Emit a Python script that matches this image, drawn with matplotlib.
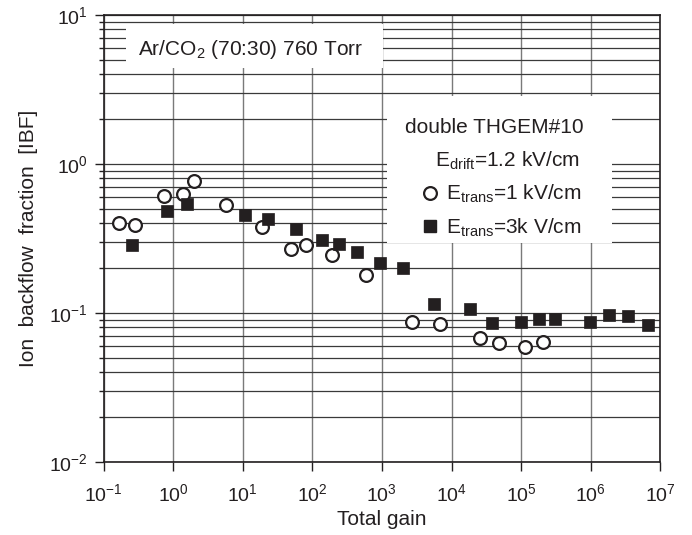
import matplotlib
matplotlib.use("Agg")
import matplotlib.pyplot as plt
from matplotlib.lines import Line2D
from matplotlib.patches import Rectangle
from matplotlib.ticker import LogLocator, NullLocator

plt.rcParams['font.family'] = ['Liberation Sans', 'DejaVu Sans']
plt.rcParams['mathtext.fontset'] = 'custom'
plt.rcParams['mathtext.rm'] = 'Liberation Sans'
plt.rcParams['axes.unicode_minus'] = False

# E_trans = 1 kV/cm (open circles)
circ_gain = [0.165, 0.284, 0.733, 1.40, 2.02, 5.70, 18.7, 49.4, 81.2, 190, 597,
             2680, 6840, 25900, 47700, 114000, 208000]
circ_ibf = [0.399, 0.391, 0.608, 0.624, 0.767, 0.527, 0.375, 0.268, 0.285, 0.243, 0.180,
            0.0869, 0.0842, 0.0679, 0.0625, 0.0591, 0.0638]

# E_trans = 3 kV/cm (filled squares)
sq_gain = [0.259, 0.817, 1.57, 10.9, 22.9, 58.9, 139, 242, 443, 949, 2030, 5660,
           18400, 37800, 98700, 179000, 307000, 977000, 1850000, 3400000, 6730000]
sq_ibf = [0.287, 0.480, 0.535, 0.453, 0.426, 0.367, 0.308, 0.288, 0.257, 0.216, 0.200, 0.115,
          0.107, 0.0860, 0.0869, 0.0914, 0.0914, 0.0865, 0.0973, 0.0957, 0.0834]

labels = [r'$\mathregular{E_{trans}}$=1 kV/cm', r'$\mathregular{E_{trans}}$=3k V/cm']
ink = '#231f20'

fig = plt.figure(figsize=(6.92, 5.35), dpi=100)
ax = fig.add_axes([0.1496, 0.1364, 0.8046, 0.8361])

ax.set_xscale('log')
ax.set_yscale('log')
ax.set_xlim(1e-1, 1e7)
ax.set_ylim(1e-2, 1e1)
ax.xaxis.set_major_locator(LogLocator(base=10, numticks=20))
ax.xaxis.set_minor_locator(NullLocator())
ax.yaxis.set_minor_locator(LogLocator(base=10, subs=range(2, 10), numticks=20))

# grid: every y tick, only decades on x
ax.grid(True, which='both', axis='y', color='#3a3a3a', lw=0.9, zorder=0)
ax.grid(True, which='major', axis='x', color='#7a7a7a', lw=1.0, zorder=0)
ax.set_axisbelow(True)

for s in ax.spines.values():
    s.set_linewidth(1.2)
    s.set_color(ink)

ax.tick_params(axis='both', which='both', direction='out', colors=ink, labelsize=14)
ax.tick_params(axis='y', which='major', length=6.5, width=1.0, pad=5)
ax.tick_params(axis='y', which='minor', length=3.5, width=1.0)
ax.tick_params(axis='x', which='major', length=6.5, width=1.0, pad=9)

ax.plot(circ_gain, circ_ibf, 'o', ms=9.2, mfc='white', mec=ink, mew=1.6, zorder=4)
ax.plot(sq_gain, sq_ibf, 's', ms=9.0, mfc=ink, mec=ink, mew=0.5, zorder=4)

ax.set_xlabel('Total gain', fontsize=15, color=ink, labelpad=3)
ax.set_ylabel('Ion  backflow  fraction  [IBF]', fontsize=15, color=ink, labelpad=8)

# white boxes hiding the grid behind the annotations
ax.add_patch(Rectangle((0.0404, 0.881), 0.4616, 0.098, transform=ax.transAxes,
                       facecolor='white', edgecolor='none', zorder=2))
ax.add_patch(Rectangle((0.5086, 0.4896), 0.4041, 0.3287, transform=ax.transAxes,
                       facecolor='white', edgecolor='none', zorder=2))

ax.text(0.062, 0.910, r'Ar/CO$_\mathregular{2}$ (70:30) 760 Torr', transform=ax.transAxes,
        fontsize=15, color=ink, va='baseline', ha='left', zorder=5)
ax.text(0.5415, 0.7349, 'double THGEM#10', transform=ax.transAxes,
        fontsize=15, color=ink, va='baseline', ha='left', zorder=5)
ax.text(0.5953, 0.6602, r'$\mathregular{E_{drift}}$=1.2 kV/cm', transform=ax.transAxes,
        fontsize=15, color=ink, va='baseline', ha='left', zorder=5)

handles = [Line2D([], [], ls='none', marker='o', ms=9.2, mfc='white', mec=ink, mew=1.6),
           Line2D([], [], ls='none', marker='s', ms=9.0, mfc=ink, mec=ink)]
leg = ax.legend(handles, labels, loc='upper left', bbox_to_anchor=(0.571, 0.624),
                frameon=False, fontsize=15, handlelength=0.8, handletextpad=0.4,
                labelspacing=0.55, borderpad=0, borderaxespad=0)
for t in leg.get_texts():
    t.set_color(ink)
leg.set_zorder(6)

fig.savefig('out.png', dpi=100)
